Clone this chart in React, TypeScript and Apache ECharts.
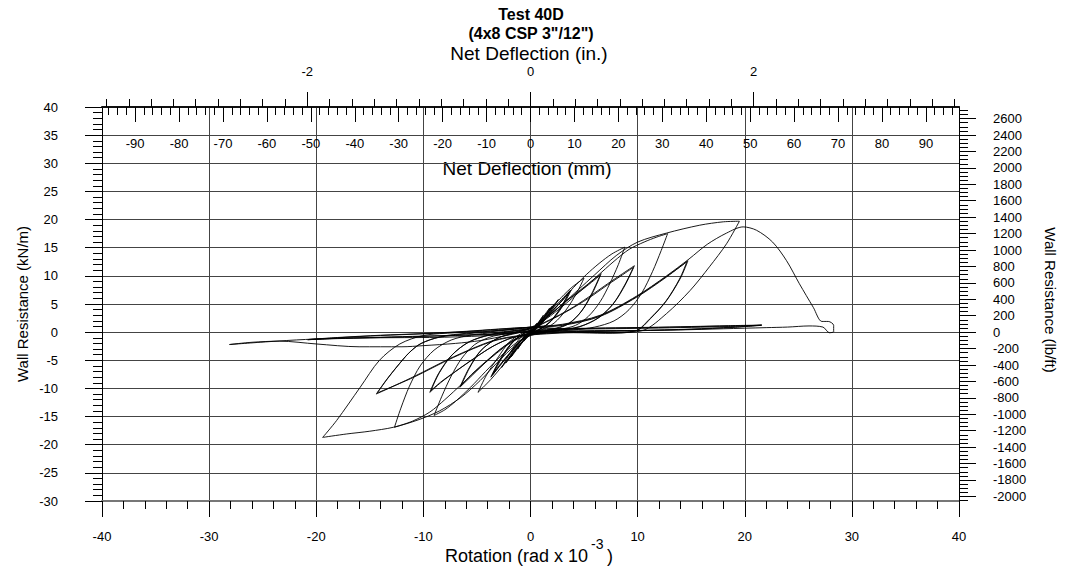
import React, { useEffect, useRef } from "react";
import * as echarts from "echarts";

type Pt = [number, number];

// ---- Axis tick label lists ----
const rotationTicks = [-40, -30, -20, -10, 0, 10, 20, 30, 40];
const inchLabels = [-2, 0, 2];
const inchMinor = [-3.8, -3.6, -3.4, -3.2, -3.0, -2.8, -2.6, -2.4, -2.2, -2.0, -1.8, -1.6, -1.4, -1.2, -1.0, -0.8, -0.6, -0.4, -0.2, 0, 0.2, 0.4, 0.6, 0.8, 1.0, 1.2, 1.4, 1.6, 1.8, 2.0, 2.2, 2.4, 2.6, 2.8, 3.0, 3.2, 3.4, 3.6, 3.8];
const mmLabels = [-90, -80, -70, -60, -50, -40, -30, -20, -10, 0, 10, 20, 30, 40, 50, 60, 70, 80, 90];
const lbftLabels = [-2000, -1800, -1600, -1400, -1200, -1000, -800, -600, -400, -200, 0, 200, 400, 600, 800, 1000, 1200, 1400, 1600, 1800, 2000, 2200, 2400, 2600];

// ---- Hysteresis data: [rotation (rad x 1e-3), wall resistance (kN/m)] ----
const smallCycles: Pt[] = [
  [0, 0], [0.3, 0.8], [0.6, 1.6], [0.3, 0.7], [0, 0.1], [-0.3, -0.8], [-0.6, -1.6], [-0.3, -0.7], [0, 0],
  [0.6, 1.4], [1.2, 3.0], [0.7, 1.5], [0.2, 0.3], [-0.5, -1.2], [-1.2, -3.0], [-0.7, -1.5], [-0.2, -0.3],
  [0.5, 1.1], [1.2, 2.8], [1.8, 4.3], [1.2, 2.4], [0.5, 0.6], [-0.4, -0.9], [-1.2, -2.9], [-1.8, -4.4], [-1.2, -2.5], [-0.5, -0.6],
  [0.4, 0.9], [1.5, 3.3], [2.6, 5.8], [1.8, 3.4], [0.8, 1.0], [-0.3, -0.7], [-1.5, -3.4], [-2.7, -6.3], [-1.9, -3.7], [-0.9, -0.9],
  [0.3, 0.6], [1.2, 2.6], [2.0, 4.6], [1.3, 2.4], [0.3, 0.4], [-0.8, -1.8], [-2.0, -4.8], [-1.3, -2.5], [-0.4, -0.5],
  [0.5, 0.8], [1.4, 2.9], [2.2, 4.9], [1.5, 2.7], [0.5, 0.5], [-0.7, -1.6], [-1.9, -4.5], [-2.3, -5.5], [-1.5, -2.9], [-0.5, -0.6],
];
const cycle5: Pt[] = [
  [0.4, 0.8], [1.5, 3.2], [2.6, 5.6], [3.7, 7.7], [5.0, 9.6], [4.3, 6.9], [3.3, 3.9], [2.2, 1.6], [1.0, 0.4], [0, -0.5],
  [-1.2, -2.6], [-2.5, -5.7], [-3.7, -8.4], [-4.9, -10.7], [-4.1, -7.6], [-3.0, -4.4], [-2.0, -1.8], [-0.9, -0.3],
];
const cycle5Trail: Pt[] = [
  [0.3, 0.6], [1.4, 2.8], [2.6, 5.2], [3.7, 7.4], [2.9, 4.5], [1.8, 1.8], [0.6, 0.2], [-0.6, -1.0], [-1.8, -3.5], [-2.8, -5.8],
  [-3.7, -8.0], [-2.9, -5.0], [-1.8, -2.0], [-0.6, -0.2],
  [0.4, 0.5], [1.5, 2.7], [2.7, 5.1], [3.6, 7.1], [2.8, 4.3], [1.7, 1.6], [0.5, 0.2], [-0.7, -1.1], [-1.9, -3.6], [-2.9, -5.9],
  [-3.6, -7.7], [-2.8, -4.8], [-1.7, -1.8], [-0.5, -0.1],
  [0.5, 0.6], [1.6, 2.8], [2.8, 5.3], [3.8, 7.5], [3.0, 4.6], [1.9, 1.9], [0.7, 0.3], [-0.5, -0.9], [-1.7, -3.3], [-2.7, -5.6],
  [-3.5, -7.5], [-2.7, -4.7], [-1.6, -1.7], [-0.4, 0],
];
const cycle6: Pt[] = [
  [0.5, 0.9], [1.6, 2.9], [2.8, 5.3], [4.0, 7.9], [5.2, 10.2], [6.4, 12.2], [7.6, 13.9], [8.8, 15.1], [8.2, 12.0], [7.4, 8.6],
  [6.5, 5.4], [5.4, 2.8], [4.2, 1.2], [2.8, 0.5], [1.4, 0.1], [0, -0.5], [-1.4, -2.0], [-2.8, -4.3], [-4.2, -7.0], [-5.6, -9.8],
  [-7.0, -12.3], [-8.0, -13.8], [-9.0, -14.8], [-8.3, -11.5], [-7.4, -7.8], [-6.4, -4.6], [-5.2, -2.2], [-3.8, -0.9], [-2.2, -0.2], [-0.8, 0.3],
];
const cycle6Trail: Pt[] = [
  [0.6, 1.2], [2.0, 3.4], [3.5, 5.8], [5.0, 8.0], [6.6, 10.4], [5.8, 7.0], [4.8, 3.8], [3.6, 1.6], [2.0, 0.5], [0.5, 0],
  [-1.0, -0.8], [-2.5, -2.6], [-4.0, -5.0], [-5.4, -7.6], [-6.6, -9.8], [-5.8, -6.6], [-4.7, -3.4], [-3.2, -1.2], [-1.6, -0.2],
  [0.4, 1.0], [1.9, 3.2], [3.4, 5.6], [5.0, 7.8], [6.5, 10.1], [5.7, 6.8], [4.7, 3.6], [3.5, 1.4], [1.9, 0.4], [0.4, -0.1],
  [-1.1, -0.9], [-2.6, -2.7], [-4.1, -5.1], [-5.5, -7.5], [-6.5, -9.6], [-5.7, -6.4], [-4.6, -3.2], [-3.1, -1.1], [-1.5, -0.1],
];
const cycle7: Pt[] = [
  [0, 0.6], [1.5, 2.4], [3.0, 4.6], [4.6, 7.2], [6.2, 9.9], [7.8, 12.6], [9.2, 14.7], [10.6, 16.0], [11.8, 16.9], [12.8, 17.5],
  [12.2, 14.5], [11.4, 10.8], [10.4, 7.0], [9.2, 4.0], [7.8, 2.0], [6.0, 0.9], [4.0, 0.4], [2.0, 0.1], [0, -0.4],
  [-1.6, -1.6], [-3.2, -3.8], [-4.8, -6.4], [-6.4, -9.2], [-8.0, -12.0], [-9.4, -14.2], [-11.0, -15.8], [-12.7, -16.9],
  [-12.1, -13.5], [-11.3, -9.6], [-10.3, -6.0], [-9.0, -3.2], [-7.4, -1.4], [-5.5, -0.5], [-3.5, -0.1], [-1.5, 0.3],
];
const cycle7Trail: Pt[] = [
  [0, 0.7], [1.8, 2.2], [3.6, 4.0], [5.4, 6.2], [7.2, 8.6], [8.6, 10.4], [9.7, 11.8], [8.9, 8.6], [7.8, 5.2], [6.4, 2.6],
  [4.6, 1.0], [2.4, 0.3], [0.4, -0.2], [-1.6, -0.9], [-3.4, -2.4], [-5.2, -4.6], [-7.0, -7.0], [-8.4, -9.0], [-9.4, -10.7],
  [-8.6, -7.4], [-7.4, -4.2], [-5.8, -1.8], [-3.8, -0.5], [-1.8, 0.1],
  [0, 0.6], [1.8, 2.1], [3.6, 3.9], [5.4, 6.0], [7.2, 8.4], [8.6, 10.2], [9.6, 11.5], [8.8, 8.4], [7.7, 5.0], [6.3, 2.5],
  [4.5, 0.9], [2.3, 0.2], [0.3, -0.3], [-1.7, -1.0], [-3.5, -2.5], [-5.3, -4.7], [-7.1, -7.1], [-8.4, -8.9], [-9.3, -10.4],
  [-8.5, -7.2], [-7.3, -4.0], [-5.7, -1.7], [-3.7, -0.4], [-1.7, 0.2],
];
const cycle8: Pt[] = [
  [0, 0.8], [1.5, 2.6], [3.0, 5.0], [4.5, 7.6], [6.0, 10.2], [8.0, 13.6], [10.0, 16.0], [12.7, 17.6], [15.8, 19.0], [18.0, 19.6],
  [19.5, 19.7], [18.3, 15.7], [16.7, 11.6], [14.9, 7.4], [12.7, 3.3], [10.5, 0.3], [8.0, -0.1], [5.0, 0], [2.0, -0.1], [0, -0.6],
  [-1.5, -2.5], [-3.0, -5.2], [-4.7, -8.6], [-6.5, -11.6], [-8.5, -14.0], [-10.5, -15.6], [-12.8, -16.9], [-15.0, -17.6],
  [-17.2, -18.1], [-19.4, -18.7], [-18.1, -15.7], [-15.9, -9.8], [-14.1, -5.0], [-12.2, -2.1], [-10.0, -0.6], [-7.0, -0.1],
  [-4.0, 0.2], [-1.5, 0.5],
];
const cycle8Trail: Pt[] = [
  [0, 0.8], [3.0, 1.2], [6.5, 2.8], [9.9, 6.2], [12.7, 9.8], [14.7, 12.7], [14.0, 9.6], [12.7, 5.6], [11.2, 2.4], [9.9, 0.3],
  [7.0, -0.1], [4.0, 0], [1.5, -0.2], [-1.0, -0.6], [-3.5, -1.5], [-7.2, -4.4], [-11.0, -8.0], [-14.4, -11.0], [-13.5, -8.6],
  [-12.5, -6.2], [-11.4, -3.8], [-10.3, -2.1], [-8.5, -0.9], [-6.0, -0.3], [-3.0, 0.2],
  [0, 0.9], [3.0, 1.3], [6.5, 2.9], [9.9, 6.3], [12.7, 9.9], [14.6, 12.5], [13.9, 9.4], [12.6, 5.4], [11.1, 2.3], [9.8, 0.2],
  [7.0, -0.2], [4.0, -0.1], [1.5, -0.3], [-1.0, -0.7], [-3.5, -1.6], [-7.2, -4.5], [-11.0, -8.1], [-14.3, -10.8], [-13.4, -8.4],
  [-12.4, -6.0], [-11.3, -3.6], [-10.2, -2.0], [-8.4, -0.8], [-6.0, -0.2], [-3.0, 0.3],
];
const failureCycle: Pt[] = [
  [0, 0.9], [3.0, 1.4], [6.5, 3.0], [9.9, 6.4], [12.7, 10.0], [14.8, 13.0], [16.5, 15.6], [18.3, 17.6], [19.85, 18.7],
  [21.1, 18.1], [22.6, 16.0], [23.9, 12.7], [25.1, 8.6], [26.4, 4.4], [27.2, 1.9], [27.8, 1.9], [28.3, 1.2], [28.3, 0.1],
  [27.9, -0.1], [27.3, 0.9], [26.0, 1.1], [24.0, 0.9], [22.0, 0.8], [18.0, 0.6], [14.0, 0.4], [10.0, 0.3], [6.0, 0.3], [3.0, 0.4], [0, 0.2],
  [-3.0, -0.5], [-8.0, -0.9], [-14.0, -1.0], [-18.0, -1.1], [-21.0, -1.3], [-24.5, -1.7], [-28.1, -2.2], [-26.0, -1.8],
  [-23.4, -1.6], [-20.0, -2.1], [-16.0, -2.6], [-12.0, -2.6], [-10.0, -2.4], [-7.0, -2.0], [-4.7, -1.5], [-2.0, -0.5], [0, 0.3],
];
const postFailure: Pt[] = [
  [3, 0.5], [7, 0.6], [11, 0.7], [15, 0.85], [18.5, 1.0], [21.6, 1.25], [19, 0.9], [15, 0.55], [10, 0.3], [5, 0.15], [2, 0.2],
  [0, 0.1], [-3, -0.3], [-7, -0.55], [-11, -0.75], [-15, -0.95], [-18, -1.1], [-20.8, -1.35], [-18, -1.0], [-14, -0.6],
  [-10, -0.3], [-6, 0.1], [-3, 0.5], [0, 0.8],
  [3, 0.6], [7, 0.7], [11, 0.8], [15, 0.95], [18.5, 1.1], [21.5, 1.2], [19, 0.85], [15, 0.5], [10, 0.25], [5, 0.1], [2, 0.15],
  [0, 0.05], [-3, -0.35], [-7, -0.6], [-11, -0.8], [-15, -1.0], [-18, -1.15], [-20.7, -1.3], [-18, -0.95], [-14, -0.55],
  [-10, -0.25], [-6, 0.15], [-3, 0.55], [0, 0.85],
  [3, 0.65], [7, 0.75], [11, 0.85], [15, 1.0], [18.5, 1.15], [21.6, 1.25],
];

const hysteresis: Pt[] = [
  ...smallCycles, ...cycle5, ...cycle5Trail, ...cycle6, ...cycle6Trail, ...cycle7, ...cycle7Trail,
  ...cycle8, ...cycle8Trail, ...failureCycle, ...postFailure,
];

// unit conversions for the secondary axes
const KN_TO_LBFT = 68.5218;
const ROT_TO_MM = 2.4384; // 8 ft wall height: 1e-3 rad -> 2.4384 mm
const ROT_MIN = -40;
const ROT_MAX = 40;
const KN_MIN = -30;
const KN_MAX = 40;

const FONT = '"Liberation Sans", Arial, Helvetica, sans-serif';

export default function App() {
  const ref = useRef<HTMLDivElement>(null);

  useEffect(() => {
    if (!ref.current) return;
    const chart = echarts.init(ref.current, undefined, { renderer: "svg" });

    const mmMin = ROT_MIN * ROT_TO_MM;
    const mmMax = ROT_MAX * ROT_TO_MM;
    const inMin = mmMin / 25.4;
    const inMax = mmMax / 25.4;
    const mmMinor: number[] = [];
    for (let v = -96; v <= 96; v += 2) mmMinor.push(v);
    const lbMinor: number[] = [];
    for (let v = -2050; v <= 2700; v += 50) lbMinor.push(v);

    const tickStyle = { color: "#000", width: 1 };
    const labelStyle = { color: "#000", fontSize: 13, fontFamily: FONT };

    const option: any = {
      animation: false,
      backgroundColor: "#fff",
      textStyle: { fontFamily: FONT },
      grid: { left: 102, top: 107, width: 857, height: 394, containLabel: false },
      xAxis: [
        {
          type: "value", position: "bottom", min: ROT_MIN, max: ROT_MAX, interval: 10,
          axisLine: { show: true, onZero: false, lineStyle: { color: "#777", width: 2 } },
          axisTick: { show: true, inside: false, length: 16, lineStyle: tickStyle },
          minorTick: { show: true, splitNumber: 5, length: 8, lineStyle: tickStyle },
          axisLabel: { ...labelStyle, margin: 29, customValues: rotationTicks },
          splitLine: { show: true, lineStyle: { color: "#444", width: 1 } },
        },
        {
          type: "value", position: "top", min: inMin, max: inMax,
          axisLine: { show: true, onZero: false, lineStyle: { color: "#111", width: 2 } },
          axisTick: { show: true, inside: false, length: 15, lineStyle: tickStyle, customValues: inchLabels },
          axisLabel: { ...labelStyle, margin: 29, customValues: inchLabels, formatter: (v: number) => String(Math.round(v)) },
          splitLine: { show: false },
        },
        {
          type: "value", position: "top", min: inMin, max: inMax,
          axisLine: { show: false, onZero: false },
          axisTick: { show: true, inside: false, length: 8, lineStyle: tickStyle, customValues: inchMinor },
          axisLabel: { show: false },
          splitLine: { show: false },
        },
        {
          type: "value", position: "top", min: mmMin, max: mmMax,
          axisLine: { show: false, onZero: false },
          axisTick: { show: true, inside: true, length: 15, lineStyle: tickStyle, customValues: mmLabels },
          axisLabel: { ...labelStyle, inside: true, margin: 30, customValues: mmLabels, formatter: (v: number) => String(Math.round(v)) },
          splitLine: { show: false },
        },
        {
          type: "value", position: "top", min: mmMin, max: mmMax,
          axisLine: { show: false, onZero: false },
          axisTick: { show: true, inside: true, length: 8, lineStyle: tickStyle, customValues: mmMinor },
          axisLabel: { show: false },
          splitLine: { show: false },
        },
      ],
      yAxis: [
        {
          type: "value", position: "left", min: KN_MIN, max: KN_MAX, interval: 5,
          axisLine: { show: true, onZero: false, lineStyle: { color: "#000", width: 1 } },
          axisTick: { show: true, inside: false, length: 17, lineStyle: tickStyle },
          minorTick: { show: true, splitNumber: 5, length: 9, lineStyle: tickStyle },
          axisLabel: { ...labelStyle, margin: 44 },
          splitLine: { show: true, lineStyle: { color: "#444", width: 1 } },
        },
        {
          type: "value", position: "right", min: KN_MIN * KN_TO_LBFT, max: KN_MAX * KN_TO_LBFT,
          axisLine: { show: true, onZero: false, lineStyle: { color: "#000", width: 1 } },
          axisTick: { show: true, inside: false, length: 17, lineStyle: tickStyle, customValues: lbftLabels },
          axisLabel: { ...labelStyle, margin: 34, align: "left", customValues: lbftLabels, formatter: (v: number) => String(Math.round(v)) },
          splitLine: { show: false },
        },
        {
          type: "value", position: "right", min: KN_MIN * KN_TO_LBFT, max: KN_MAX * KN_TO_LBFT,
          axisLine: { show: false, onZero: false },
          axisTick: { show: true, inside: false, length: 9, lineStyle: tickStyle, customValues: lbMinor },
          axisLabel: { show: false },
          splitLine: { show: false },
        },
      ],
      series: [
        {
          type: "line",
          xAxisIndex: 0,
          yAxisIndex: 0,
          data: hysteresis,
          showSymbol: false,
          symbol: "none",
          smooth: 0.3,
          lineStyle: { color: "#000", width: 0.9 },
          silent: true,
          clip: true,
        },
      ],
      graphic: [
        { type: "text", x: 531, y: 14, style: { text: "Test 40D", align: "center", verticalAlign: "middle", font: `bold 16px ${FONT}`, fill: "#000" } },
        { type: "text", x: 531, y: 33, style: { text: '(4x8 CSP 3"/12")', align: "center", verticalAlign: "middle", font: `bold 16px ${FONT}`, fill: "#000" } },
        { type: "text", x: 529, y: 53, style: { text: "Net Deflection (in.)", align: "center", verticalAlign: "middle", font: `19px ${FONT}`, fill: "#000" } },
        { type: "text", x: 527, y: 168, style: { text: "Net Deflection (mm)", align: "center", verticalAlign: "middle", font: `19px ${FONT}`, fill: "#000" } },
        { type: "text", x: 588, y: 556, style: { text: "Rotation (rad x 10", align: "right", verticalAlign: "middle", font: `18px ${FONT}`, fill: "#000" } },
        { type: "text", x: 591, y: 544, style: { text: "-3", align: "left", verticalAlign: "middle", font: `14px ${FONT}`, fill: "#000" } },
        { type: "text", x: 607, y: 556, style: { text: ")", align: "left", verticalAlign: "middle", font: `18px ${FONT}`, fill: "#000" } },
        { type: "text", x: 22, y: 304, rotation: Math.PI / 2, style: { text: "Wall Resistance (kN/m)", align: "center", verticalAlign: "middle", font: `15px ${FONT}`, fill: "#000" } },
        { type: "text", x: 1050, y: 300, rotation: -Math.PI / 2, style: { text: "Wall Resistance (lb/ft)", align: "center", verticalAlign: "middle", font: `15px ${FONT}`, fill: "#000" } },
      ],
    };

    chart.setOption(option);
    return () => chart.dispose();
  }, []);

  return (
    <div
      ref={ref}
      style={{ position: "fixed", left: 0, top: 0, width: 1065, height: 569, background: "#fff" }}
    />
  );
}
